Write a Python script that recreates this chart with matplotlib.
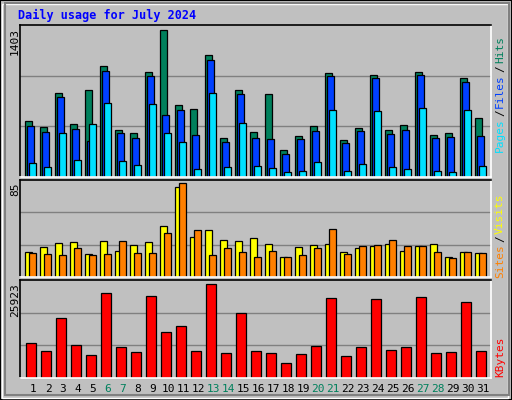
import matplotlib
matplotlib.use("Agg")
import matplotlib.pyplot as plt
from matplotlib.patches import Rectangle
import numpy as np

days = list(range(1, 32))
weekend = [6, 7, 13, 14, 20, 21, 27, 28]
hits = [536,475,803,504,829,1059,446,418,1001,1403,686,647,1164,370,829,427,791,255,389,485,992,351,466,973,446,494,1001,399,418,944,561]
files = [485,427,762,456,341,1011,418,370,963,590,638,399,1116,332,791,370,360,217,360,437,963,322,437,944,408,446,973,370,379,906,389]
pages = [131,92,418,159,504,705,150,112,695,418,332,73,803,92,513,102,83,45,54,140,638,54,121,628,92,73,657,54,45,638,102]
visits = [23,27,31,32,21,33,24,29,32,46,82,36,43,34,33,35,30,18,27,29,30,23,26,28,30,24,28,30,18,23,22]
sites = [22,21,20,26,20,21,33,22,22,40,85,43,20,26,23,18,24,18,20,26,44,21,28,29,34,28,28,23,17,23,22]
kbytes = [9745,7474,16557,9177,6339,23369,8609,7190,22517,12583,14286,7474,25923,6906,17976,7474,6906,4068,6623,8893,21949,6055,8609,21665,7758,8609,22233,6906,7190,20814,7474]

W, H = 512, 400
bg = "#C0C0C0"
fig = plt.figure(figsize=(W/100, H/100), dpi=100, facecolor=bg)
mono = "DejaVu Sans Mono"

fig.patches.append(Rectangle((0, 0), 1, 1, transform=fig.transFigure, fill=False, ec="black", lw=1.5))
fig.patches.append(Rectangle((2/W, 2/H), (W-6)/W, (H-6)/H, transform=fig.transFigure, fill=False, ec="white", lw=1))
fig.patches.append(Rectangle((5/W, 5/H), (W-8)/W, (H-8)/H, transform=fig.transFigure, fill=False, ec="#808080", lw=1.5))

SLOT = 15.0
X0 = 1 - 5/SLOT
PW = 471

def panel(y0, y1):
    ax = fig.add_axes([20/W, 1-y1/H, PW/W, (y1-y0)/H])
    ax.set_facecolor(bg)
    ax.set_xlim(X0, X0 + PW/SLOT)
    ax.set_xticks([]); ax.set_yticks([])
    for s in ["top", "left"]:
        ax.spines[s].set_color("black")
    for s in ["bottom", "right"]:
        ax.spines[s].set_color("white")
    for s in ax.spines.values():
        s.set_linewidth(1.2)
    return ax

x = np.array(days, dtype=float)
kw = dict(edgecolor="black", linewidth=0.9, align="edge")
bw = 7/SLOT
off = 2/SLOT

ax1 = panel(25, 177)
ymax1 = max(hits) / 0.97
ax1.set_ylim(0, ymax1)
for g in [ymax1/3, 2*ymax1/3]:
    ax1.axhline(g, color="#808080", lw=1, zorder=0)
ax1.bar(x, hits, bw, color="#00805C", **kw)
ax1.bar(x+off, files, bw, color="#0040FF", **kw)
ax1.bar(x+2*off, pages, bw, color="#00E0FF", **kw)

ax2 = panel(180, 277)
ymax2 = max(sites) / 0.965
ax2.set_ylim(0, ymax2)
for g in [ymax2/3, 2*ymax2/3]:
    ax2.axhline(g, color="#808080", lw=1, zorder=0)
ax2.bar(x, visits, bw, color="#FFFF00", **kw)
ax2.bar(x+2*off, sites, bw, color="#FF8000", **kw)

ax3 = panel(280, 378)
ymax3 = max(kbytes) / 0.96
ax3.set_ylim(0, ymax3)
for g in [ymax3/3, 2*ymax3/3]:
    ax3.axhline(g, color="#808080", lw=1, zorder=0)
ax3.bar(x+1/SLOT, kbytes, 10/SLOT, color="#FF0000", **kw)

for d in days:
    fx = (20 + (d - X0)*SLOT + 8)/W
    fig.text(fx, 1-389/H, str(d), ha="center", va="center", fontsize=8, family=mono,
             color="#00805C" if d in weekend else "black")

fig.text(18/W, 1-15/H, "Daily usage for July 2024", fontsize=8.5, family=mono, weight="bold", color="#0000FF", va="center")
fig.text(15/W, 1-28/H, str(max(hits)), rotation=90, fontsize=8, family=mono, ha="center", va="top")
fig.text(15/W, 1-183/H, str(max(sites)), rotation=90, fontsize=8, family=mono, ha="center", va="top")
fig.text(15/W, 1-283/H, str(max(kbytes)), rotation=90, fontsize=8, family=mono, ha="center", va="top")

renderer = fig.canvas.get_renderer()
def rlabel(ybottom, parts):
    y = ybottom
    for txt, col in parts:
        t = fig.text(500/W, 1-y/H, txt, rotation=90, fontsize=8, family=mono, color=col,
                     ha="center", va="bottom")
        ext = t.get_window_extent(renderer)
        y -= ext.height + 2

rlabel(152, [("Pages", "#00E0FF"), ("/", "black"), ("Files", "#0040FF"), ("/", "black"), ("Hits", "#00805C")])
rlabel(278, [("Sites", "#FF8000"), ("/", "black"), ("Visits", "#FFFF00")])
rlabel(377, [("KBytes", "#FF0000")])
fig.savefig("out.png", dpi=100, facecolor=bg)
